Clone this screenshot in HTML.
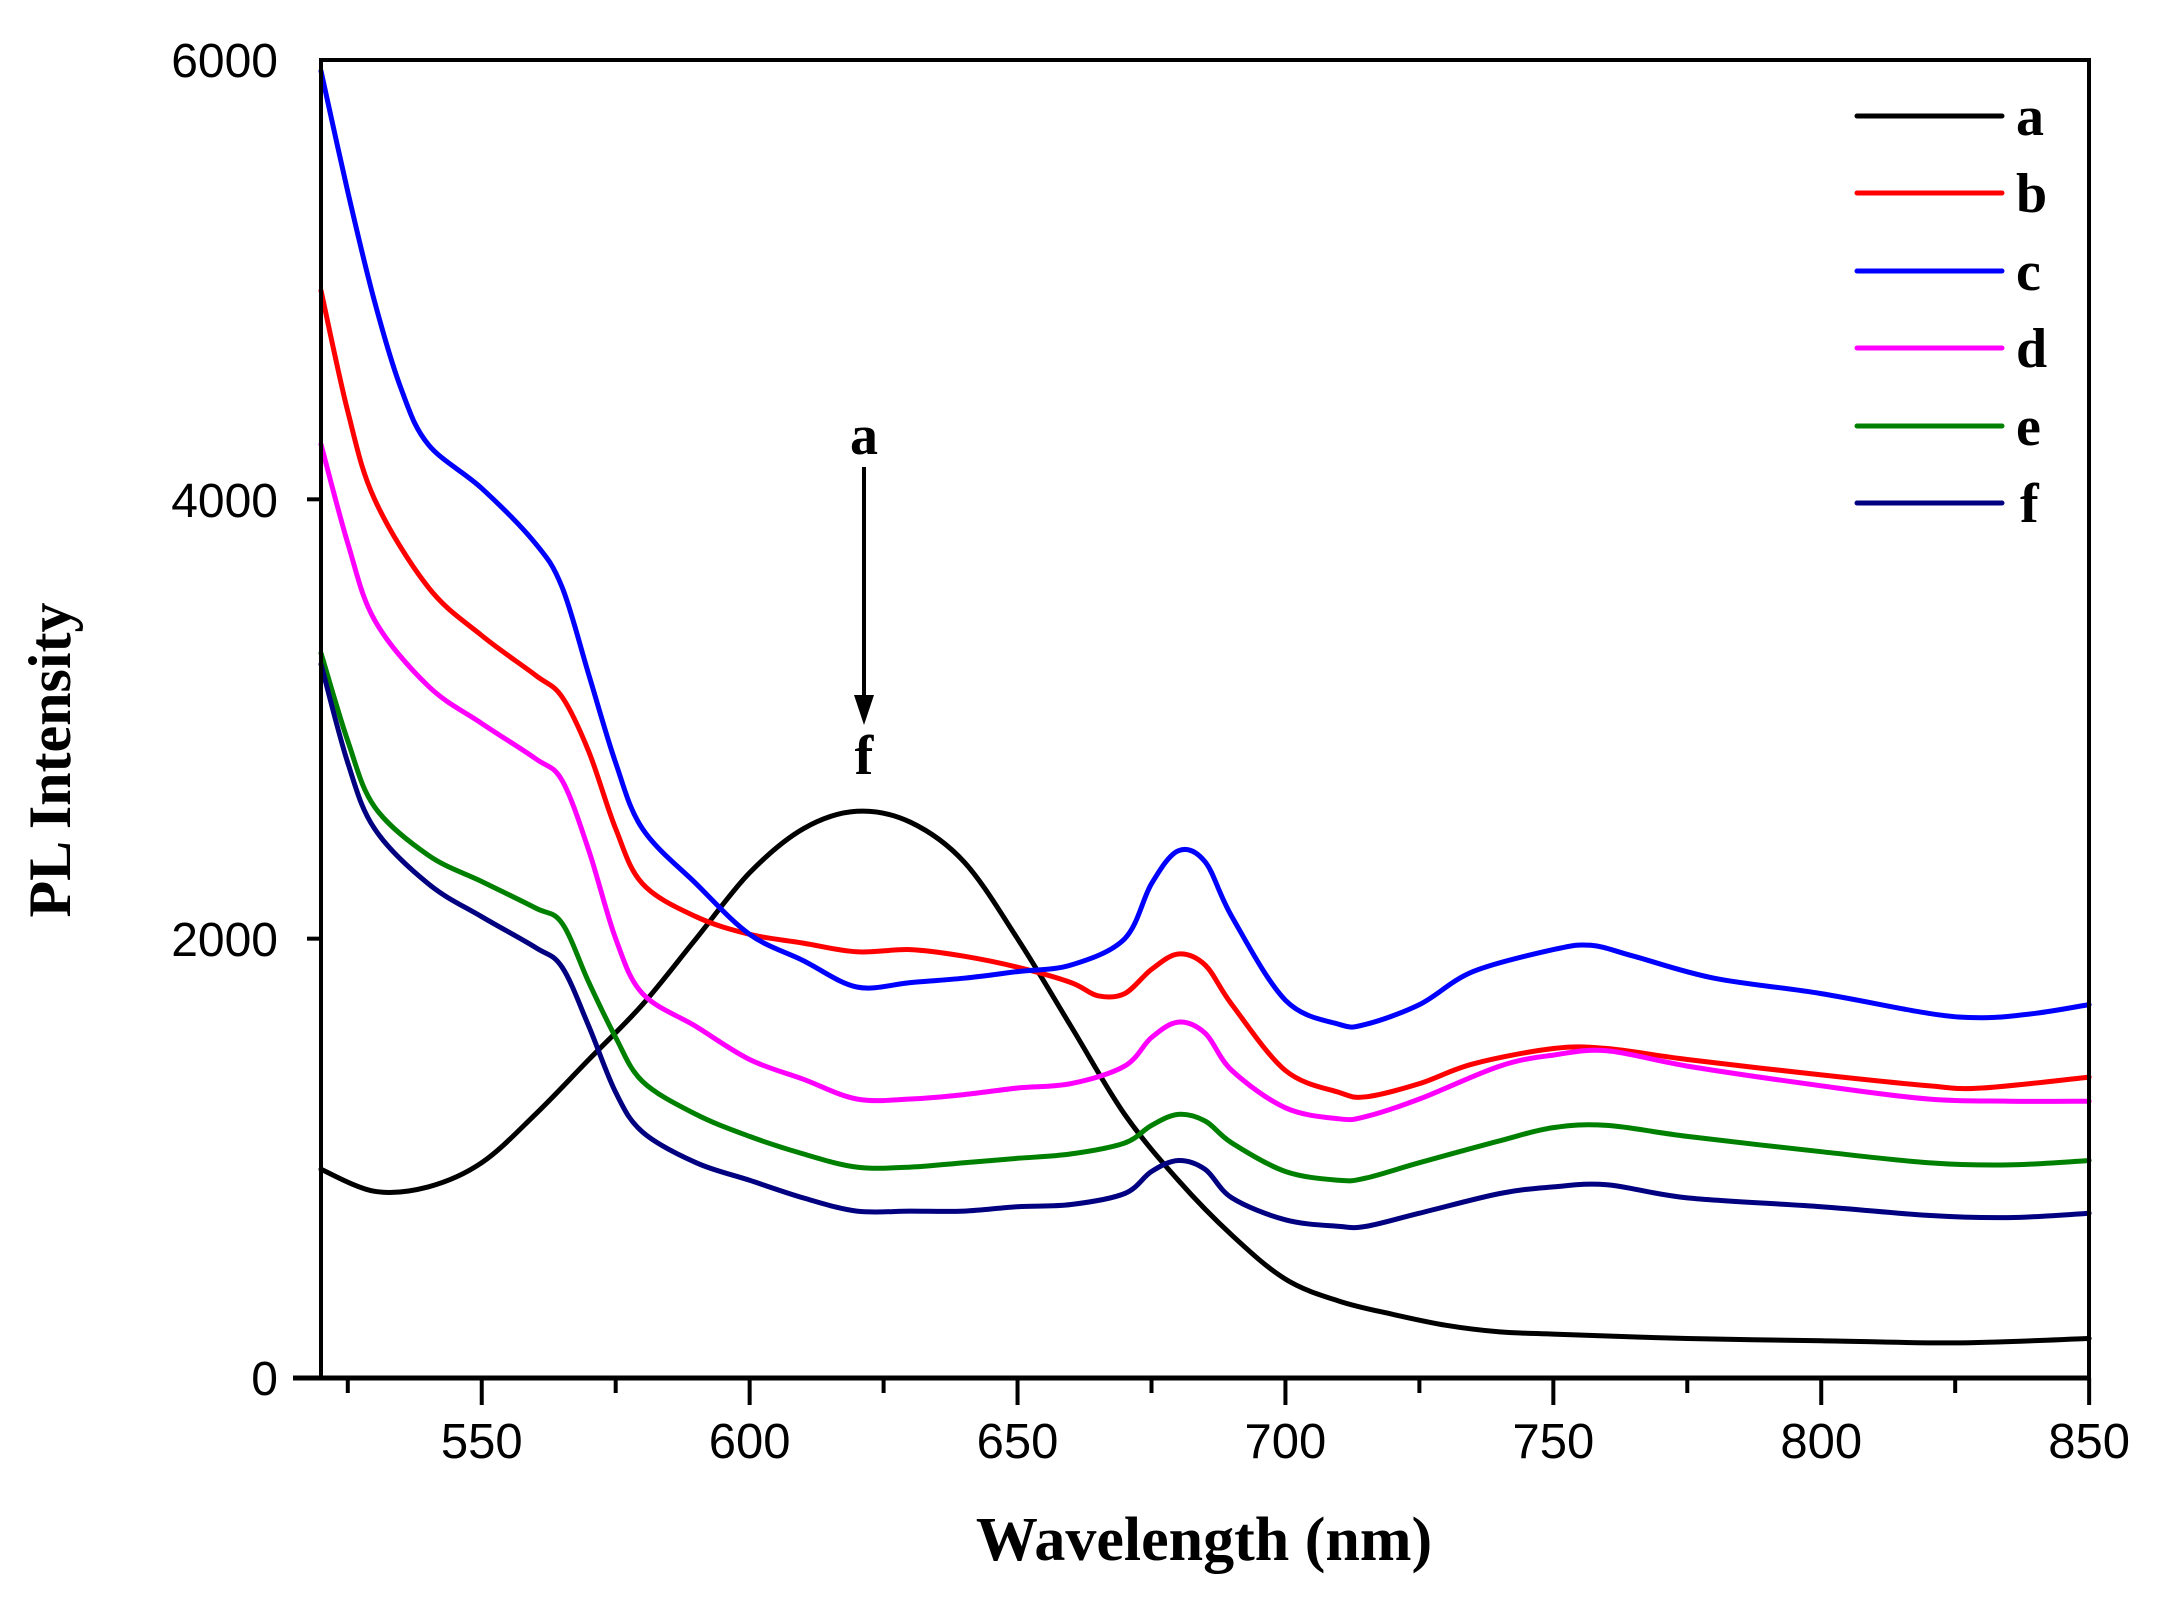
<!DOCTYPE html>
<html><head><meta charset="utf-8"><style>
html,body{margin:0;padding:0;background:#fff;width:2158px;height:1610px;overflow:hidden}
</style></head><body>
<svg id="s" width="2158" height="1610" xmlns="http://www.w3.org/2000/svg">
<rect width="2158" height="1610" fill="#fff"/>
<g id="curves" fill="none" stroke-width="5" stroke-linejoin="round" stroke-linecap="round"></g>
<g stroke="#000" fill="none">
<line x1="321" y1="60" x2="2089" y2="60" stroke-width="4"/>
<line x1="321" y1="58" x2="321" y2="1380" stroke-width="4"/>
<line x1="2089" y1="58" x2="2089" y2="1380" stroke-width="4"/>
<line x1="293" y1="1378" x2="2091" y2="1378" stroke-width="5"/>
<g id="ticks" stroke-width="4"></g>
</g>
<g font-family="Liberation Sans, sans-serif" font-size="48" fill="#000" text-anchor="end">
<text x="278" y="77">6000</text>
<text x="278" y="517">4000</text>
<text x="278" y="956">2000</text>
<text x="278" y="1395">0</text>
</g>
<g id="xl" font-family="Liberation Sans, sans-serif" font-size="49" fill="#000" text-anchor="middle"></g>
<text x="1204" y="1560" font-family="Liberation Serif, serif" font-weight="bold" font-size="62" text-anchor="middle">Wavelength (nm)</text>
<text transform="translate(70,760) rotate(-90)" font-family="Liberation Serif, serif" font-weight="bold" font-size="60" text-anchor="middle">PL Intensity</text>
<g stroke-width="5" stroke-linecap="round">
<line x1="1857" y1="116" x2="2002" y2="116" stroke="#000"/>
<line x1="1857" y1="193" x2="2002" y2="193" stroke="#f00"/>
<line x1="1857" y1="271" x2="2002" y2="271" stroke="#00f"/>
<line x1="1857" y1="348" x2="2002" y2="348" stroke="#f0f"/>
<line x1="1857" y1="426" x2="2002" y2="426" stroke="#008000"/>
<line x1="1857" y1="503" x2="2002" y2="503" stroke="#000080"/>
</g>
<g font-family="Liberation Serif, serif" font-weight="bold" font-size="56" fill="#000">
<text x="2016" y="135">a</text>
<text x="2016" y="212">b</text>
<text x="2016" y="290">c</text>
<text x="2016" y="367">d</text>
<text x="2016" y="445">e</text>
<text x="2020" y="522">f</text>
<text x="864" y="454" text-anchor="middle">a</text>
<text x="864" y="774" text-anchor="middle">f</text>
</g>
<line x1="864" y1="467" x2="864" y2="700" stroke="#000" stroke-width="4"/>
<polygon points="854,695 874,695 864,725" fill="#000"/>
</svg>
<script>
var X=function(w){return 321+(w-520)*5.358},Y=function(v){return 1378-v*0.21967};
var D={
"#000":[[520,950],[530,850],[540,870],[550,980],[560,1200],[570,1450],[580,1700],[590,2000],[600,2300],[610,2500],[620,2580],[630,2530],[640,2350],[650,2000],[660,1600],[670,1200],[680,900],[690,650],[700,450],[710,350],[720,290],[730,240],[740,210],[750,200],[775,180],[800,170],[825,160],[850,180]],
"#f00":[[520,4950],[525,4400],[530,4000],[540,3600],[550,3380],[560,3200],[565,3100],[570,2850],[575,2500],[580,2250],[590,2100],[600,2020],[610,1980],[620,1940],[630,1950],[640,1920],[650,1870],[660,1800],[665,1740],[670,1750],[675,1860],[680,1930],[685,1880],[690,1700],[700,1400],[710,1300],[715,1280],[725,1340],[735,1430],[750,1500],[760,1500],[775,1450],[800,1380],[820,1330],[830,1320],[850,1370]],
"#00f":[[520,5950],[525,5400],[530,4900],[535,4500],[540,4250],[550,4050],[560,3800],[565,3600],[570,3200],[575,2800],[580,2500],[590,2250],[600,2020],[610,1900],[620,1780],[630,1800],[640,1820],[650,1850],[660,1880],[670,2000],[675,2250],[680,2400],[685,2350],[690,2100],[700,1720],[710,1610],[715,1610],[725,1700],[735,1850],[750,1950],[757,1970],[765,1920],[780,1820],[800,1750],[820,1660],[830,1640],[840,1660],[850,1700]],
"#f0f":[[520,4250],[525,3800],[530,3450],[540,3150],[550,2980],[560,2820],[565,2720],[570,2400],[575,2000],[580,1750],[590,1600],[600,1450],[610,1360],[620,1270],[630,1270],[640,1290],[650,1320],[660,1340],[670,1420],[675,1550],[680,1620],[685,1570],[690,1400],[700,1230],[710,1180],[715,1190],[725,1270],[740,1420],[750,1470],[760,1490],[775,1420],[800,1330],[820,1270],[835,1260],[850,1260]],
"#008000":[[520,3300],[525,2900],[530,2600],[540,2380],[550,2260],[560,2140],[565,2070],[570,1800],[575,1550],[580,1350],[590,1200],[600,1100],[610,1020],[620,960],[630,960],[640,980],[650,1000],[660,1020],[670,1070],[675,1150],[680,1200],[685,1170],[690,1070],[700,940],[710,900],[715,910],[725,980],[740,1080],[750,1140],[760,1150],[775,1100],[800,1030],[820,980],[835,970],[850,990]],
"#000080":[[520,3250],[525,2800],[530,2500],[540,2250],[550,2100],[560,1960],[565,1870],[570,1600],[575,1300],[580,1120],[590,980],[600,900],[610,820],[620,760],[630,760],[640,760],[650,780],[660,790],[670,840],[675,940],[680,990],[685,950],[690,820],[700,720],[710,690],[715,690],[725,750],[740,840],[750,870],[760,880],[775,820],[800,780],[820,740],[835,730],[850,750]]};
var g=document.getElementById('curves'),ns="http://www.w3.org/2000/svg";
for(var c in D){var p=D[c].map(function(q){return [X(q[0]),Y(q[1])]});
var d="M"+p[0][0].toFixed(1)+","+p[0][1].toFixed(1);
for(var i=0;i<p.length-1;i++){var p0=p[i-1]||p[i],p1=p[i],p2=p[i+1],p3=p[i+2]||p2;
d+="C"+(p1[0]+(p2[0]-p0[0])/6).toFixed(1)+","+(p1[1]+(p2[1]-p0[1])/6).toFixed(1)+" "+(p2[0]-(p3[0]-p1[0])/6).toFixed(1)+","+(p2[1]-(p3[1]-p1[1])/6).toFixed(1)+" "+p2[0].toFixed(1)+","+p2[1].toFixed(1);}
var e=document.createElementNS(ns,"path");e.setAttribute("d",d);e.setAttribute("stroke",c);g.appendChild(e);}
var t=document.getElementById('ticks'),xl=document.getElementById('xl');
for(var w=525;w<=850;w+=25){var x=X(w),maj=(w%50==0);var l=document.createElementNS(ns,"line");
l.setAttribute("x1",x);l.setAttribute("x2",x);l.setAttribute("y1",1378);l.setAttribute("y2",maj?1405:1393);t.appendChild(l);
if(maj){var tx=document.createElementNS(ns,"text");tx.setAttribute("x",x);tx.setAttribute("y",1458);tx.textContent=w;xl.appendChild(tx);}}
[2000,4000].forEach(function(v){var l=document.createElementNS(ns,"line");l.setAttribute("x1",307);l.setAttribute("x2",321);l.setAttribute("y1",Y(v));l.setAttribute("y2",Y(v));t.appendChild(l);});
</script>
</body></html>
